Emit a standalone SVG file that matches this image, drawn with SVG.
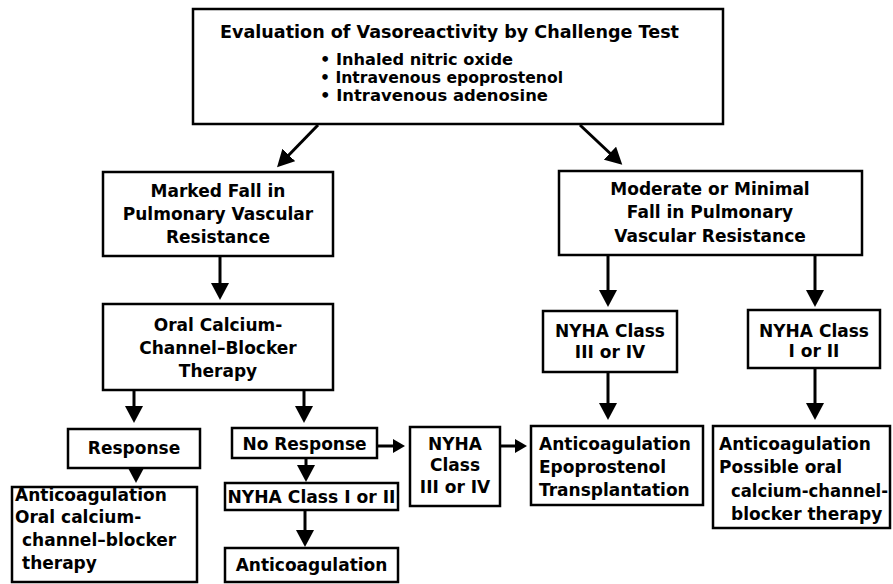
<svg xmlns="http://www.w3.org/2000/svg" width="893" height="584" viewBox="0 0 893 584">
<style>
  .box { fill: #fff; stroke: #000; stroke-width: 2.5; }
  text { font-family: "DejaVu Sans", "Liberation Sans", sans-serif; font-weight: bold; font-size: 17px; fill: #000; }
  .c { text-anchor: middle; }
  .b { font-size: 15.5px; }
  .arr { stroke: #000; stroke-width: 3; fill: none; marker-end: url(#ah); }
  .arrs { stroke: #000; stroke-width: 3; fill: none; marker-end: url(#ahs); }
</style>
<defs>
  <marker id="ah" markerUnits="userSpaceOnUse" markerWidth="18" markerHeight="18" refX="7" refY="9" orient="auto">
    <path d="M0,0 L17,9 L0,18 z" fill="#000"/>
  </marker>
  <marker id="ahs" markerUnits="userSpaceOnUse" markerWidth="13" markerHeight="14" refX="4" refY="7" orient="auto">
    <path d="M0,0 L12,7 L0,14 z" fill="#000"/>
  </marker>
</defs>
<rect width="893" height="584" fill="#fff"/>

<g id="connectors">
  <line class="arr" x1="318" y1="125" x2="284" y2="160"/>
  <line class="arr" x1="580" y1="125" x2="615" y2="158"/>
  <line class="arr" x1="220" y1="257" x2="220" y2="290"/>
  <line class="arr" x1="608" y1="255" x2="608" y2="297"/>
  <line class="arr" x1="815" y1="255" x2="815" y2="297"/>
  <line class="arr" x1="134" y1="390" x2="134" y2="413"/>
  <line class="arr" x1="304" y1="390" x2="304" y2="413"/>
  <line class="arr" x1="608" y1="372" x2="608" y2="410"/>
  <line class="arr" x1="815" y1="368" x2="815" y2="410"/>
  <line class="arr" x1="136" y1="468" x2="136" y2="473"/>
  <line class="arr" x1="306" y1="458" x2="306" y2="472"/>
  <line class="arr" x1="305" y1="510" x2="305" y2="537"/>
  <line class="arrs" x1="377" y1="446" x2="397" y2="446"/>
  <line class="arrs" x1="500" y1="446" x2="519" y2="446"/>
</g>

<g id="evaluation">
  <rect class="box" x="193" y="9" width="530" height="115"/>
  <text x="220" y="38" textLength="459" lengthAdjust="spacingAndGlyphs">Evaluation of Vasoreactivity by Challenge Test</text>
  <text class="b" x="320" y="65" textLength="193" lengthAdjust="spacingAndGlyphs">• Inhaled nitric oxide</text>
  <text class="b" x="320" y="83" textLength="243" lengthAdjust="spacingAndGlyphs">• Intravenous epoprostenol</text>
  <text class="b" x="320" y="101" textLength="228" lengthAdjust="spacingAndGlyphs">• Intravenous adenosine</text>
</g>

<g id="marked">
  <rect class="box" x="103" y="172" width="230" height="84"/>
  <text class="c" x="218" y="197">Marked Fall in</text>
  <text class="c" x="218" y="220">Pulmonary Vascular</text>
  <text class="c" x="218" y="243">Resistance</text>
</g>

<g id="moderate">
  <rect class="box" x="559" y="171" width="303" height="84"/>
  <text class="c" x="710" y="195">Moderate or Minimal</text>
  <text class="c" x="710" y="218">Fall in Pulmonary</text>
  <text class="c" x="710" y="242">Vascular Resistance</text>
</g>

<g id="oral">
  <rect class="box" x="103" y="304" width="230" height="86"/>
  <text class="c" x="218" y="331">Oral Calcium-</text>
  <text class="c" x="218" y="354">Channel–Blocker</text>
  <text class="c" x="218" y="377">Therapy</text>
</g>

<g id="nyha34-right">
  <rect class="box" x="543" y="311" width="134" height="61"/>
  <text class="c" x="610" y="337">NYHA Class</text>
  <text class="c" x="610" y="358">III or IV</text>
</g>

<g id="nyha12-right">
  <rect class="box" x="748" y="310" width="132" height="58"/>
  <text class="c" x="814" y="337">NYHA Class</text>
  <text class="c" x="814" y="357">I or II</text>
</g>

<g id="response">
  <rect class="box" x="68" y="429" width="132" height="39"/>
  <text class="c" x="134" y="454">Response</text>
</g>

<g id="no-response">
  <rect class="box" x="232" y="428" width="145" height="30"/>
  <text class="c" x="304.5" y="450">No Response</text>
</g>

<g id="nyha34-mid">
  <rect class="box" x="410" y="427" width="90" height="79"/>
  <text class="c" x="455" y="450">NYHA</text>
  <text class="c" x="455" y="471">Class</text>
  <text class="c" x="455" y="493">III or IV</text>
</g>

<g id="nyha12-mid">
  <rect class="box" x="225" y="483" width="173" height="27"/>
  <text class="c" x="311.5" y="503" textLength="168" lengthAdjust="spacingAndGlyphs">NYHA Class I or II</text>
</g>

<g id="anticoag-only">
  <rect class="box" x="225" y="548" width="173" height="34"/>
  <text class="c" x="311.5" y="571">Anticoagulation</text>
</g>

<g id="anticoag-oral">
  <rect class="box" x="12" y="487" width="185" height="95"/>
  <text x="15" y="501">Anticoagulation</text>
  <text x="15" y="523">Oral calcium-</text>
  <text x="22" y="546">channel–blocker</text>
  <text x="22" y="569">therapy</text>
</g>

<g id="anticoag-epo">
  <rect class="box" x="531" y="426" width="172" height="79"/>
  <text x="539" y="450">Anticoagulation</text>
  <text x="539" y="473">Epoprostenol</text>
  <text x="539" y="496">Transplantation</text>
</g>

<g id="anticoag-possible">
  <rect class="box" x="713" y="426" width="177" height="102"/>
  <text x="719" y="450">Anticoagulation</text>
  <text x="719" y="473">Possible oral</text>
  <text x="731" y="497" textLength="157" lengthAdjust="spacingAndGlyphs">calcium-channel-</text>
  <text x="731" y="520">blocker therapy</text>
</g>
</svg>
